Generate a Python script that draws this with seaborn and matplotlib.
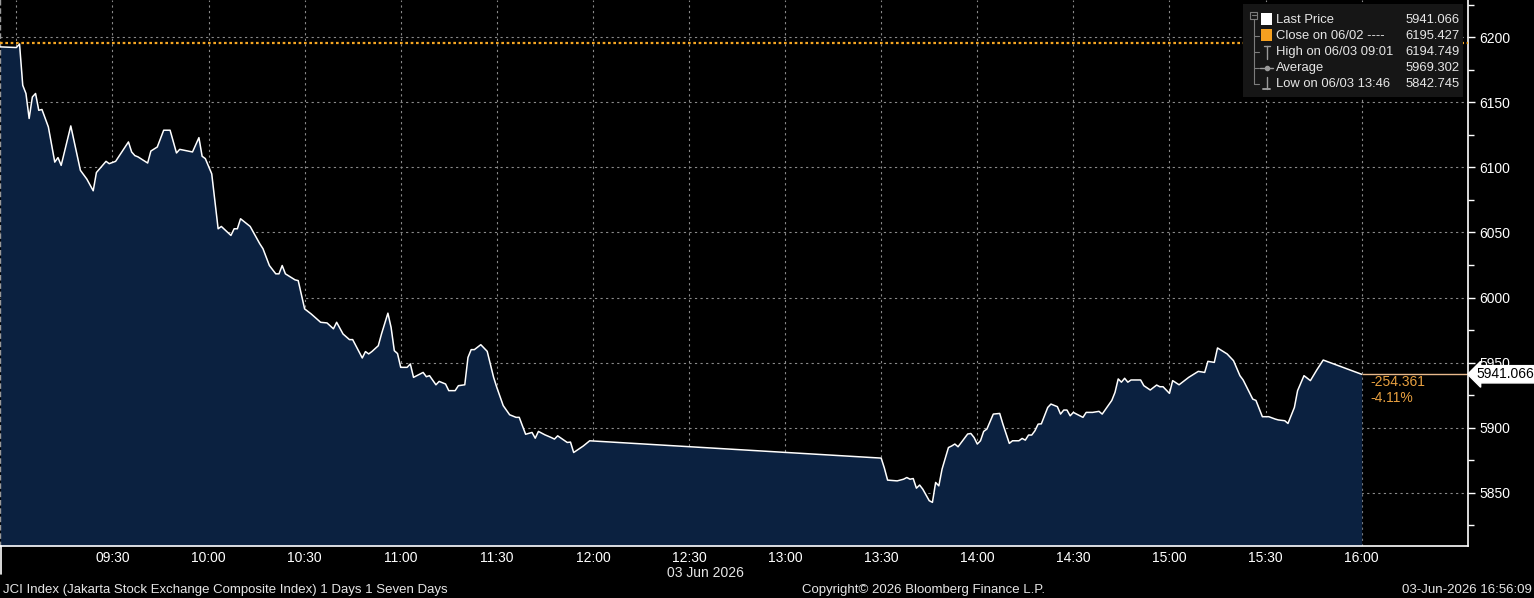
import matplotlib
matplotlib.use("Agg")
import numpy as np
import pandas as pd
import matplotlib.pyplot as plt
import matplotlib.dates as mdates
from matplotlib.patches import Rectangle
from matplotlib.lines import Line2D
from matplotlib.ticker import FixedLocator, MultipleLocator
import seaborn as sns

# ---------------- data ----------------
times = ["08:55", "09:00", "09:01", "09:02", "09:03", "09:04", "09:05", "09:06", "09:07", "09:08",
         "09:10", "09:12", "09:13", "09:14", "09:17", "09:20", "09:22", "09:24", "09:25", "09:28",
         "09:29", "09:31", "09:35", "09:36", "09:37", "09:38", "09:41", "09:42", "09:44", "09:46",
         "09:48", "09:50", "09:51", "09:55", "09:57", "09:58", "09:59", "10:01", "10:03", "10:04",
         "10:07", "10:08", "10:09", "10:10", "10:13", "10:16", "10:17", "10:19", "10:21", "10:22",
         "10:23", "10:24", "10:27", "10:28", "10:30", "10:32", "10:35", "10:37", "10:39", "10:40",
         "10:42", "10:44", "10:45", "10:48", "10:49", "10:50", "10:51", "10:53", "10:54", "10:56",
         "10:57", "10:58", "10:59", "11:00", "11:02", "11:03", "11:04", "11:07", "11:08", "11:09",
         "11:11", "11:12", "11:14", "11:15", "11:17", "11:18", "11:20", "11:21", "11:22", "11:23",
         "11:25", "11:27", "11:29", "11:30", "11:32", "11:34", "11:36", "11:37", "11:39", "11:41",
         "11:42", "11:43", "11:45", "11:47", "11:48", "11:49", "11:52", "11:53", "11:54", "11:57",
         "11:59",
         "13:30", "13:31", "13:32", "13:35", "13:37", "13:38", "13:39", "13:40", "13:41", "13:42",
         "13:43", "13:45", "13:46", "13:47", "13:48", "13:49", "13:51", "13:52", "13:53", "13:54",
         "13:57", "13:58", "13:59", "14:00", "14:01", "14:02", "14:03", "14:05", "14:07", "14:08",
         "14:10", "14:11", "14:13", "14:14", "14:15", "14:16", "14:17", "14:18", "14:19", "14:20",
         "14:22", "14:23", "14:25", "14:26", "14:27", "14:28", "14:29", "14:30", "14:31", "14:33",
         "14:34", "14:36", "14:38", "14:39", "14:42", "14:43", "14:44", "14:45", "14:46", "14:47",
         "14:48", "14:51", "14:52", "14:54", "14:56", "14:57", "14:58", "15:00", "15:01", "15:03",
         "15:06", "15:08", "15:09", "15:11", "15:12", "15:14", "15:15", "15:18", "15:20", "15:22",
         "15:23", "15:26", "15:27", "15:29", "15:31", "15:33", "15:34", "15:36", "15:37", "15:39",
         "15:40", "15:42", "15:44", "15:46", "15:48", "16:00"]

prices = [6192.5, 6192.0, 6194.7, 6163.0, 6156.7, 6137.5, 6154.0, 6156.7, 6143.8, 6144.4,
          6131.0, 6104.0, 6107.5, 6101.5, 6131.8, 6097.7, 6091.0, 6082.0, 6096.0, 6104.6,
          6102.8, 6104.6, 6119.5, 6111.8, 6109.0, 6108.0, 6103.3, 6112.5, 6115.6, 6128.5,
          6128.5, 6111.0, 6113.8, 6111.8, 6122.8, 6108.5, 6106.7, 6095.0, 6052.8, 6054.6,
          6047.7, 6052.8, 6052.8, 6060.5, 6054.6, 6041.3, 6037.5, 6024.6, 6018.2, 6018.2,
          6024.6, 6018.2, 6013.6, 6013.0, 5991.3, 5987.5, 5981.0, 5980.5, 5976.0, 5981.0,
          5972.0, 5967.7, 5967.7, 5953.6, 5958.5, 5956.7, 5958.5, 5963.0, 5972.0, 5988.0,
          5977.0, 5959.2, 5957.0, 5946.4, 5946.4, 5949.0, 5938.7, 5942.5, 5939.2, 5940.0,
          5933.0, 5935.6, 5933.6, 5928.5, 5928.5, 5932.3, 5933.0, 5954.0, 5960.0, 5960.0,
          5963.8, 5958.7, 5938.7, 5931.0, 5917.0, 5910.0, 5908.0, 5908.0, 5895.0, 5896.4,
          5892.0, 5897.2, 5894.6, 5892.5, 5891.3, 5893.8, 5888.7, 5889.0, 5881.0, 5886.0,
          5890.0,
          5876.7, 5869.0, 5859.8, 5859.2, 5860.5, 5861.8, 5860.5, 5861.0, 5853.6, 5856.0,
          5852.8, 5844.0, 5842.7, 5858.0, 5855.4, 5868.2, 5884.8, 5886.0, 5887.5, 5885.4,
          5895.2, 5895.6, 5892.5, 5887.5, 5890.0, 5897.2, 5899.0, 5910.5, 5911.0, 5902.8,
          5888.0, 5890.0, 5890.0, 5891.8, 5890.5, 5894.4, 5894.4, 5897.7, 5902.8, 5903.0,
          5915.6, 5918.2, 5916.2, 5910.5, 5913.6, 5913.6, 5909.2, 5911.8, 5910.5, 5908.0,
          5911.8, 5911.8, 5912.6, 5910.5, 5921.0, 5927.2, 5937.5, 5935.0, 5938.0, 5935.0,
          5936.7, 5936.7, 5932.3, 5929.0, 5932.8, 5931.5, 5931.5, 5926.4, 5936.2, 5933.0,
          5938.7, 5941.8, 5943.3, 5942.5, 5951.0, 5950.2, 5961.3, 5956.7, 5951.5, 5940.0,
          5936.7, 5922.0, 5921.0, 5908.5, 5908.5, 5906.7, 5906.0, 5905.4, 5903.3, 5915.6,
          5928.5, 5940.0, 5936.2, 5944.4, 5952.0, 5941.066]

y_ticks = [5850, 5900, 5950, 6000, 6050, 6100, 6150, 6200]
x_grid_times = ["09:00", "09:30", "10:00", "10:30", "11:00", "11:30", "12:00", "12:30",
                "13:00", "13:30", "14:00", "14:30", "15:00", "15:30", "16:00"]
x_tick_labels = ["", "09:30", "10:00", "10:30", "11:00", "11:30", "12:00", "12:30",
                 "13:00", "13:30", "14:00", "14:30", "15:00", "15:30", "16:00"]

trade_date = "2026-06-03"
date_label = "03 Jun 2026"
prev_close = 6195.427
last_price = 5941.066
high_price = 6194.749
avg_price = 5969.302
low_price = 5842.745
net_change = "-254.361"
pct_change = "-4.11%"

legend_labels = ["Last Price", "Close on 06/02 ----", "High on 06/03 09:01", "Average", "Low on 06/03 13:46"]
legend_values = ["5941.066", "6195.427", "6194.749", "5969.302", "5842.745"]

footer_left = "JCI Index (Jakarta Stock Exchange Composite Index) 1 Days 1 Seven Days"
footer_mid = "Copyright\u00a9 2026 Bloomberg Finance L.P."
footer_right = "03-Jun-2026 16:56:09"

# ---------------- style ----------------
sns.set_theme(style="dark")
plt.rcParams['font.family'] = ['Liberation Sans', 'DejaVu Sans']
plt.rcParams['axes.facecolor'] = 'black'
plt.rcParams['figure.facecolor'] = 'black'

W, H = 1534, 598
fig = plt.figure(figsize=(W / 100, H / 100), dpi=100)
fig.patch.set_facecolor('black')

def fx(px):
    return px / W

def fy(py):
    return 1 - py / H

ax = fig.add_axes([0, fy(546), fx(1468), 546 / H])
ax.set_facecolor('black')

df = pd.DataFrame({
    "time": pd.to_datetime([f"{trade_date} {t}" for t in times]),
    "price": prices,
})

ymin, ymax = 5809.2, 6228.5
day0 = pd.Timestamp(f"{trade_date} 09:00")
ax.set_xlim(day0 - pd.Timedelta(minutes=5.1), day0 + pd.Timedelta(minutes=453.2))
ax.set_ylim(ymin, ymax)

ax.fill_between(df["time"], df["price"], ymin, color='#0b2140', lw=0, zorder=1)
sns.lineplot(data=df, x="time", y="price", ax=ax, color='white', lw=1.1, zorder=3)

# reference lines
ax.axhline(prev_close, color='#f5a623', lw=1.6, ls=(0, (1.2, 1.2)), zorder=4)
ax.hlines(last_price, df["time"].iloc[-1], ax.get_xlim()[1], color='#e8b98c', lw=1.0, zorder=4)

# axes formatting
grid_pos = [mdates.date2num(pd.Timestamp(f"{trade_date} {t}")) for t in x_grid_times]
ax.xaxis.set_major_locator(FixedLocator(grid_pos))
ax.set_xticklabels(x_tick_labels)
minor_pos = [p + 15 / 1440 for p in grid_pos]
ax.xaxis.set_minor_locator(FixedLocator(minor_pos))
ax.yaxis.tick_right()
ax.set_yticks(y_ticks)
ax.set_yticklabels([str(v) for v in y_ticks])
ax.yaxis.set_minor_locator(MultipleLocator(25))
ax.set_xlabel("")
ax.set_ylabel("")

ax.tick_params(axis='x', which='both', colors='white', labelcolor='white', direction='out',
               length=3, width=1, labelsize=10, pad=0.5)
ax.tick_params(axis='y', which='major', colors='white', labelcolor='white', direction='out',
               length=5, width=1, labelsize=10, pad=3, right=True, left=False)
ax.tick_params(axis='y', which='minor', colors='white', direction='out', length=4, width=1,
               right=True, left=False)

ax.grid(True, which='major', color='#8a8a8a', lw=0.8, ls=(0, (2, 3)))
ax.grid(False, which='minor')
ax.spines['top'].set_visible(False)
ax.spines['bottom'].set_color('white')
ax.spines['bottom'].set_linewidth(1.2)
ax.spines['right'].set_color('white')
ax.spines['right'].set_linewidth(1.2)
ax.spines['left'].set_color('#9a9a9a')
ax.spines['left'].set_linestyle((0, (3, 3)))
ax.spines['left'].set_linewidth(1)

# last price tag on right axis
ax.text(1.006, last_price, f"{last_price:.3f}", transform=ax.get_yaxis_transform(),
        ha='left', va='center', fontsize=10, color='black', zorder=10, clip_on=False,
        bbox=dict(boxstyle='larrow,pad=0.12', fc='white', ec='white'))

# change annotation
fig.text(fx(1370), fy(382), net_change, color='#e8a040', fontsize=10, ha='left', va='center')
fig.text(fx(1370), fy(398), pct_change, color='#e8a040', fontsize=10, ha='left', va='center')

# ---------------- legend box ----------------
fig.add_artist(Rectangle((fx(1243), fy(97)), fx(1463) - fx(1243), (97 - 4) / H,
                         transform=fig.transFigure, fc='#161616', ec='none', zorder=20))
rows_y = [20, 36, 52, 68, 84]
tree_c = '#7c7c7c'
fig.add_artist(Rectangle((fx(1250), fy(18.5)), 7 / W, 7 / H, transform=fig.transFigure,
                         fc='none', ec=tree_c, lw=0.8, zorder=21))
fig.add_artist(Line2D([fx(1251.5), fx(1255.5)], [fy(15), fy(15)], transform=fig.transFigure,
                      color=tree_c, lw=0.8, zorder=21))
fig.add_artist(Line2D([fx(1253.5), fx(1253.5)], [fy(19), fy(84)], transform=fig.transFigure,
                      color=tree_c, lw=0.8, zorder=21))
for ry in rows_y[1:]:
    fig.add_artist(Line2D([fx(1253.5), fx(1259)], [fy(ry), fy(ry)], transform=fig.transFigure,
                          color=tree_c, lw=0.8, zorder=21))
fig.add_artist(Rectangle((fx(1261), fy(25)), 11 / W, 12 / H, transform=fig.transFigure,
                         fc='white', ec='none', zorder=22))
fig.add_artist(Rectangle((fx(1261), fy(41)), 11 / W, 12 / H, transform=fig.transFigure,
                         fc='#f5a020', ec='none', zorder=22))
mk = '#9a9a9a'
fig.add_artist(Line2D([fx(1266.5), fx(1266.5)], [fy(46), fy(59)], transform=fig.transFigure, color=mk, lw=1, zorder=22))
fig.add_artist(Line2D([fx(1263.5), fx(1269.5)], [fy(46), fy(46)], transform=fig.transFigure, color=mk, lw=1, zorder=22))
fig.add_artist(Line2D([fx(1260), fx(1273)], [fy(68), fy(68)], transform=fig.transFigure, color=mk, lw=1, zorder=22))
fig.add_artist(Line2D([fx(1266.5)], [fy(68)], transform=fig.transFigure, color=mk, marker='o', ms=3, zorder=22))
fig.add_artist(Line2D([fx(1266.5), fx(1266.5)], [fy(77), fy(89)], transform=fig.transFigure, color=mk, lw=1, zorder=22))
fig.add_artist(Line2D([fx(1263), fx(1270)], [fy(89), fy(89)], transform=fig.transFigure, color=mk, lw=1.4, zorder=22))

for ry, lab, val in zip(rows_y, legend_labels, legend_values):
    t1 = fig.text(fx(1276), fy(ry), lab, color='#e6e6e6', fontsize=9.4, ha='left', va='center')
    t2 = fig.text(fx(1460), fy(ry), val, color='#e6e6e6', fontsize=9.4, ha='right', va='center')
    t1.set_zorder(23)
    t2.set_zorder(23)

# ---------------- footer ----------------
fig.add_artist(Line2D([fx(0.8), fx(0.8)], [fy(546), fy(574)], transform=fig.transFigure,
                      color='white', lw=1.2))
fig.text(fx(705), fy(573), date_label, color='#e6e6e6', fontsize=10, ha='center', va='center')
fig.text(fx(3), fy(590), footer_left, color='#e6e6e6', fontsize=9.5, ha='left', va='center')
fig.text(fx(924), fy(590), footer_mid, color='#e6e6e6', fontsize=9.5, ha='center', va='center',
         family=['Liberation Sans Narrow', 'Liberation Sans'])
fig.text(fx(1532), fy(590), footer_right, color='#e6e6e6', fontsize=9.5, ha='right', va='center',
         family=['Liberation Sans Narrow', 'Liberation Sans'])

assert len(times) == len(prices)
fig.savefig("out.png", dpi=100, facecolor='black')
